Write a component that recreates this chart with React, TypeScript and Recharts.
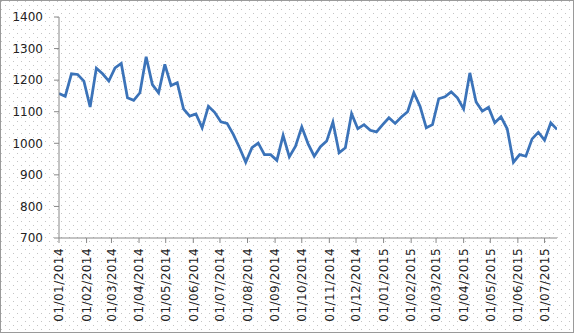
import React from 'react';
import { LineChart, Line, XAxis, YAxis } from 'recharts';

const startDate = '01/01/2014';

// weekly observations starting 01/01/2014
const weeklyValues = [
  1158, 1149, 1220, 1218, 1197, 1115, 1238, 1220, 1197, 1239,
  1253, 1144, 1136, 1160, 1274, 1186, 1160, 1250, 1183, 1192,
  1109, 1086, 1093, 1049, 1117, 1098, 1068, 1063, 1028, 986,
  940, 986, 1001, 964, 964, 946, 1025, 957, 991, 1052,
  999, 959, 989, 1007, 1067, 970, 986, 1094, 1046, 1059,
  1041, 1036, 1059, 1081, 1063, 1083, 1100, 1160, 1117, 1049,
  1059, 1141, 1147, 1163, 1144, 1109, 1223, 1131, 1102, 1114,
  1065, 1084, 1046, 940, 964, 959, 1014, 1035, 1010, 1065,
  1044,
];

const monthTickLabels = [
  '01/01/2014', '01/02/2014', '01/03/2014', '01/04/2014', '01/05/2014',
  '01/06/2014', '01/07/2014', '01/08/2014', '01/09/2014', '01/10/2014',
  '01/11/2014', '01/12/2014', '01/01/2015', '01/02/2015', '01/03/2015',
  '01/04/2015', '01/05/2015', '01/06/2015', '01/07/2015',
];

const yTicks = [700, 800, 900, 1000, 1100, 1200, 1300, 1400];

const DAY_MS = 86400000;
function parseDMY(s: string): number {
  const [d, m, y] = s.split('/').map(Number);
  return Date.UTC(y, m - 1, d);
}
const t0 = parseDMY(startDate);
const data = weeklyValues.map((v, i) => ({ day: i * 7, value: v }));
const lastDay = data[data.length - 1].day;
const tickDays = monthTickLabels.map((s) => Math.round((parseDMY(s) - t0) / DAY_MS));
const labelByDay = new Map<number, string>(tickDays.map((d, i) => [d, monthTickLabels[i]]));

const FONT = 'DejaVu Sans';

const XTick = (props: any) => {
  const { x, y, payload } = props;
  return (
    <g transform={`translate(${x},${y})`}>
      <text
        x={0}
        y={0}
        dy="0.36em"
        transform="rotate(-90)"
        textAnchor="end"
        fontFamily={FONT}
        fontSize={12}
        letterSpacing={0.45}
        fill="#222"
      >
        {labelByDay.get(payload.value)}
      </text>
    </g>
  );
};

export default function App() {
  return (
    <div
      style={{
        position: 'absolute',
        left: 0,
        top: 0,
        width: 574,
        height: 333,
        boxSizing: 'border-box',
        border: '1px solid #9a9a9a',
        background: '#ffffff',
        overflow: 'hidden',
      }}
    >
      <svg width={574} height={333} style={{ position: 'absolute', left: -1, top: -1 }}>
        <defs>
          <pattern id="dots" width="8" height="8" patternUnits="userSpaceOnUse">
            <rect x="1" y="1" width="1" height="1" fill="#c4c4c4" />
            <rect x="5" y="5" width="1" height="1" fill="#c4c4c4" />
          </pattern>
        </defs>
        <rect x="0" y="0" width="574" height="333" fill="url(#dots)" />
      </svg>
      <div style={{ position: 'absolute', left: -1, top: -1 }}>
        <LineChart
          width={574}
          height={333}
          data={data}
          margin={{ top: 17, right: 17, bottom: 0, left: 0 }}
        >
          <XAxis
            dataKey="day"
            type="number"
            domain={[0, lastDay]}
            ticks={tickDays}
            interval={0}
            height={95}
            tickSize={5}
            tickMargin={5}
            stroke="#888888"
            tick={<XTick />}
            allowDataOverflow
          />
          <YAxis
            type="number"
            domain={[700, 1400]}
            ticks={yTicks}
            interval={0}
            width={59}
            tickSize={5}
            tickMargin={11}
            stroke="#888888"
            tick={{ fontFamily: FONT, fontSize: 12, fill: '#222' }}
          />
          <Line
            type="linear"
            dataKey="value"
            stroke="#3b73b9"
            strokeWidth={2.75}
            dot={false}
            isAnimationActive={false}
          />
        </LineChart>
      </div>
    </div>
  );
}
